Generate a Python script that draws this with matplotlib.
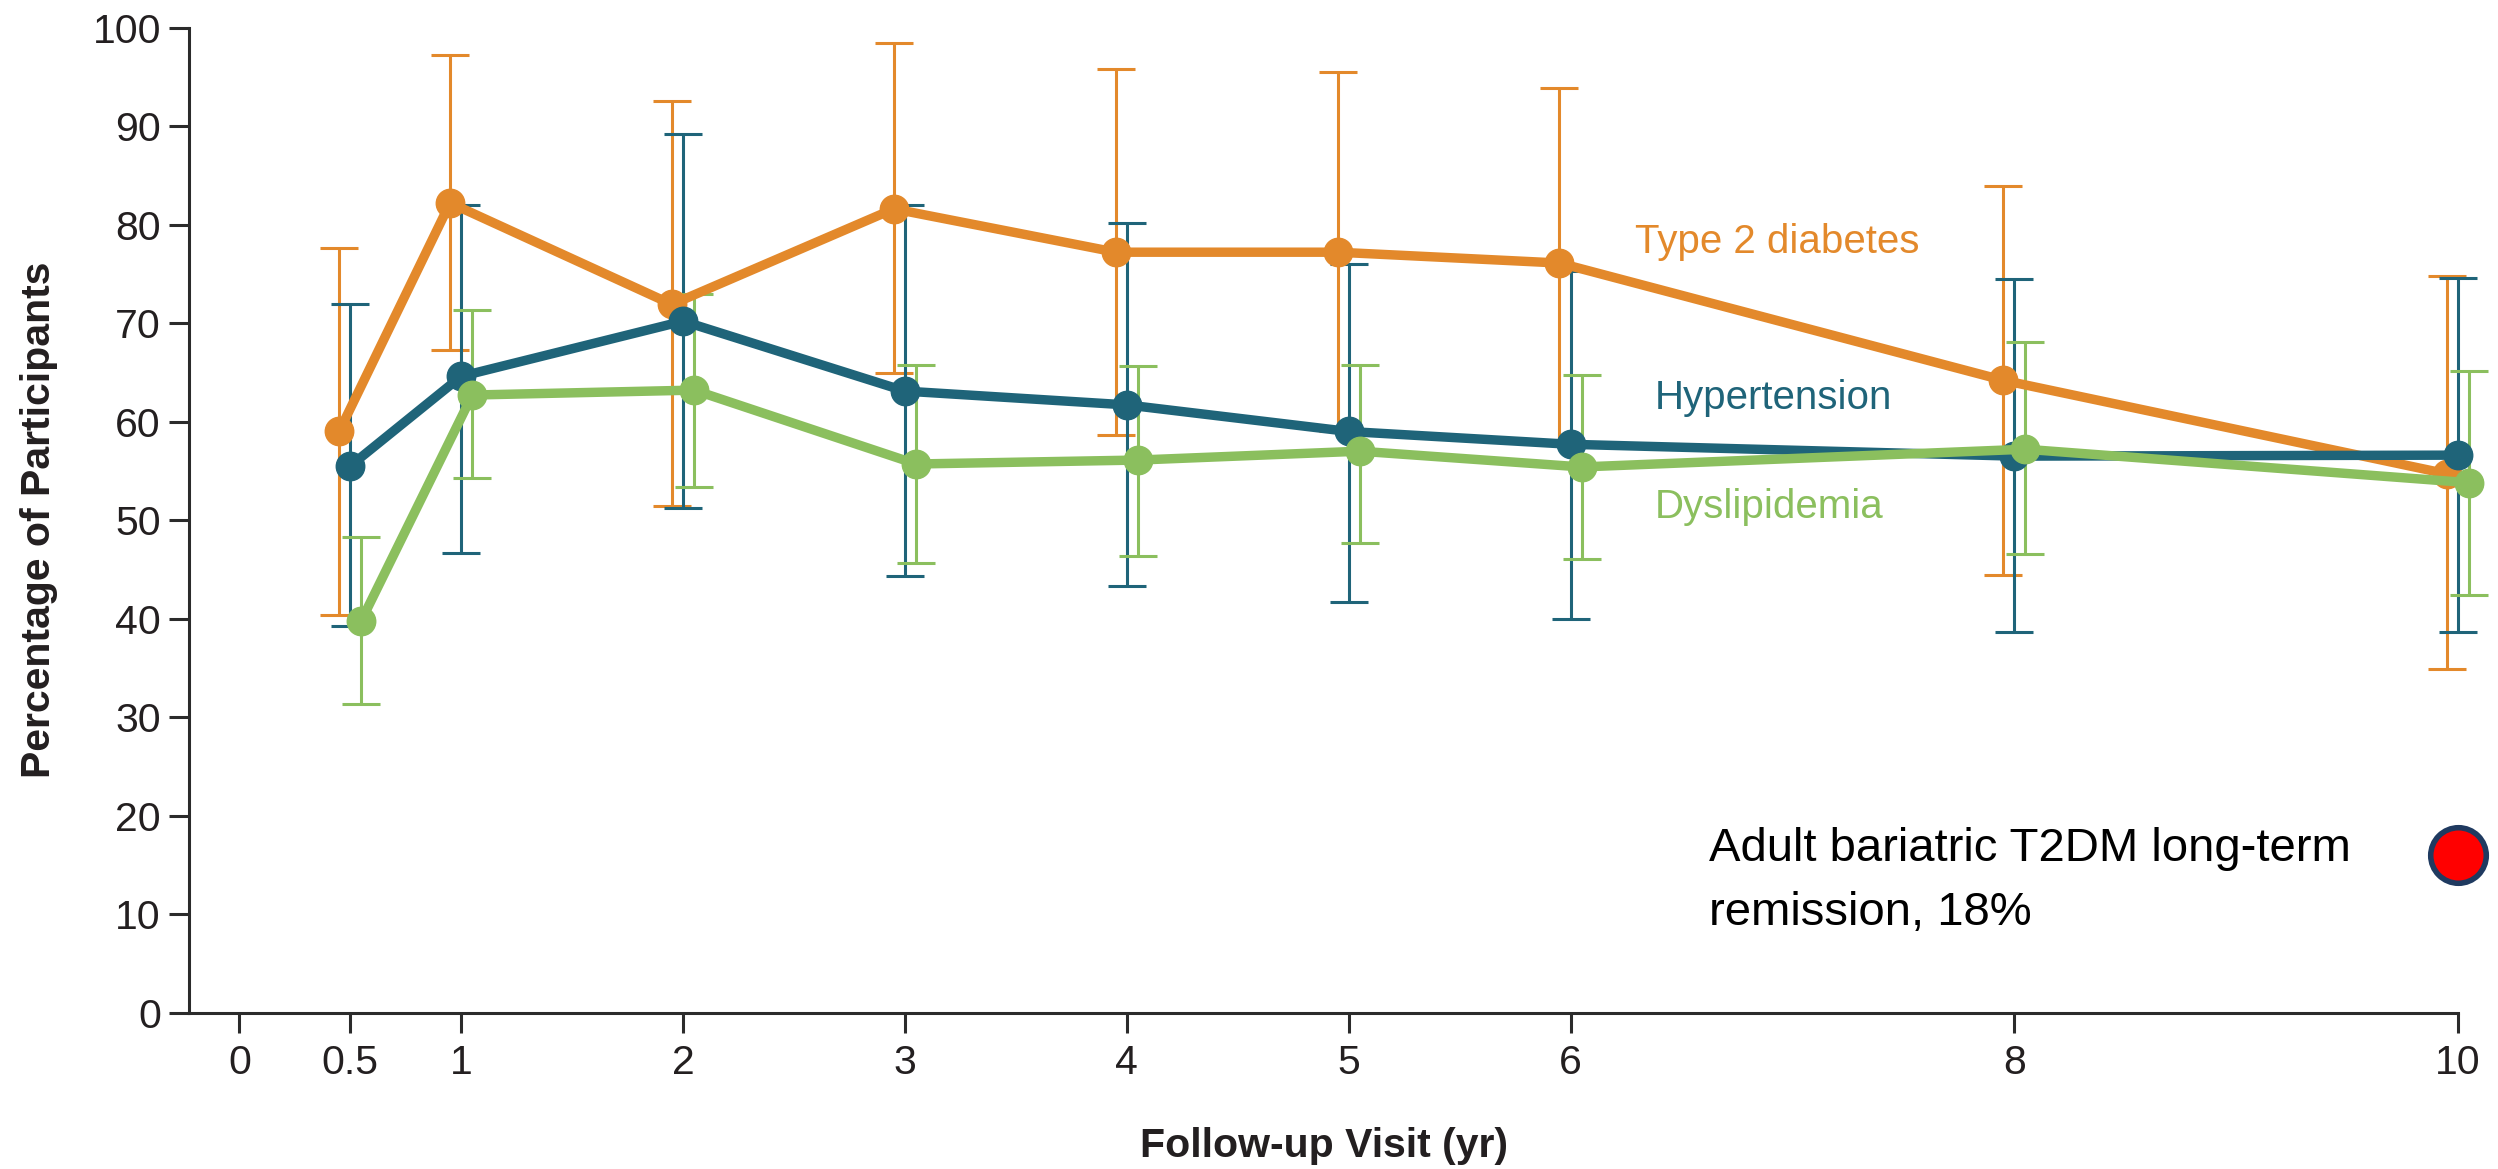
import matplotlib
matplotlib.use('Agg')
import matplotlib.pyplot as plt

# follow-up visits (yr) and remission percentages with 95% CI
years = [0.5, 1, 2, 3, 4, 5, 6, 8, 10]
x_ticks = [0, 0.5, 1, 2, 3, 4, 5, 6, 8, 10]
x_tick_labels = ['0', '0.5', '1', '2', '3', '4', '5', '6', '8', '10']
y_ticks = [0, 10, 20, 30, 40, 50, 60, 70, 80, 90, 100]

diabetes = [59.0, 82.2, 71.9, 81.6, 77.2, 77.2, 76.1, 64.2, 54.7]
diabetes_hi = [77.6, 97.2, 92.5, 98.4, 95.8, 95.5, 93.9, 83.9, 74.8]
diabetes_lo = [40.4, 67.3, 51.4, 64.9, 58.6, 59.0, 58.0, 44.4, 34.9]

hypertension = [55.5, 64.6, 70.2, 63.1, 61.7, 59.0, 57.7, 56.5, 56.6]
hypertension_hi = [71.9, 82.0, 89.2, 82.0, 80.2, 76.0, 75.3, 74.5, 74.6]
hypertension_lo = [39.3, 46.7, 51.2, 44.3, 43.3, 41.7, 40.0, 38.6, 38.6]

dyslipidemia = [39.8, 62.7, 63.2, 55.7, 56.1, 57.0, 55.4, 57.2, 53.8]
dyslipidemia_hi = [48.3, 71.3, 73.0, 65.7, 65.6, 65.8, 64.7, 68.1, 65.1]
dyslipidemia_lo = [31.3, 54.3, 53.4, 45.7, 46.4, 47.7, 46.1, 46.6, 42.4]

remission_x = 10
remission_y = 16.0
remission_label = 'Adult bariatric T2DM long-term\nremission, 18%'

ORANGE = '#E3892B'
TEAL = '#1F6479'
GREEN = '#8BBF5E'
AXIS = '#2b2b2b'
FONT = 'Liberation Sans'

plt.rcParams['font.family'] = [FONT, 'DejaVu Sans']

fig = plt.figure(figsize=(24.98, 11.69), dpi=100, facecolor='white')
ax = fig.add_axes([0.07582, 0.13370, 0.90817, 0.84269])

series = [
    ('Type 2 diabetes', diabetes, diabetes_lo, diabetes_hi, ORANGE, -0.05, (6.29, 77.1)),
    ('Hypertension', hypertension, hypertension_lo, hypertension_hi, TEAL, 0.0, (6.38, 61.3)),
    ('Dyslipidemia', dyslipidemia, dyslipidemia_lo, dyslipidemia_hi, GREEN, 0.05, (6.38, 50.2)),
]

# error bars first, then lines on top
for name, vals, lo, hi, col, off, _ in series:
    xs = [x + off for x in years]
    err = [[v - l for v, l in zip(vals, lo)], [h - v for v, h in zip(vals, hi)]]
    ax.errorbar(xs, vals, yerr=err, fmt='none', ecolor=col, elinewidth=2.2,
                capsize=13.5, capthick=2.2, zorder=2, clip_on=False)

for z, (name, vals, lo, hi, col, off, pos) in enumerate(series):
    xs = [x + off for x in years]
    ax.plot(xs, vals, color=col, lw=6.8, marker='o', ms=20.5, zorder=3 + z,
            clip_on=False, solid_joinstyle='round')
    ax.text(pos[0], pos[1], name, color=col, fontsize=29, va='baseline', ha='left')

ax.plot([remission_x], [remission_y], 'o', ms=40, mfc='#FF0000', mec='#1F3A60',
        mew=4, clip_on=False, zorder=10)
# baseline of the last line
ax.text(6.626, 8.9, remission_label, fontsize=34, color='black',
        va='baseline', ha='left', linespacing=1.6)

ax.set_xlim(-0.225, 10)
ax.set_ylim(0, 100)
ax.set_xticks(x_ticks)
ax.set_xticklabels(x_tick_labels)
ax.set_yticks(y_ticks)

for s in ['top', 'right']:
    ax.spines[s].set_visible(False)
for s in ['left', 'bottom']:
    ax.spines[s].set_color(AXIS)
    ax.spines[s].set_linewidth(2.2)

ax.tick_params(axis='both', colors=AXIS, labelcolor='#231f20', labelsize=29.5,
               length=14.5, width=2.2, direction='out')
ax.tick_params(axis='y', pad=6)
ax.tick_params(axis='x', pad=8)

fig.text(39 / 2498, 1 - 520 / 1169, 'Percentage of Participants', rotation=90,
         ha='center', va='center', fontsize=29.5, fontweight='bold', color='#231f20')
fig.text(1323.7 / 2498, 1 - 1156.7 / 1169, 'Follow-up Visit (yr)',
         ha='center', va='baseline', fontsize=29.5, fontweight='bold', color='#231f20')

fig.savefig('out.png', dpi=100, facecolor='white')
